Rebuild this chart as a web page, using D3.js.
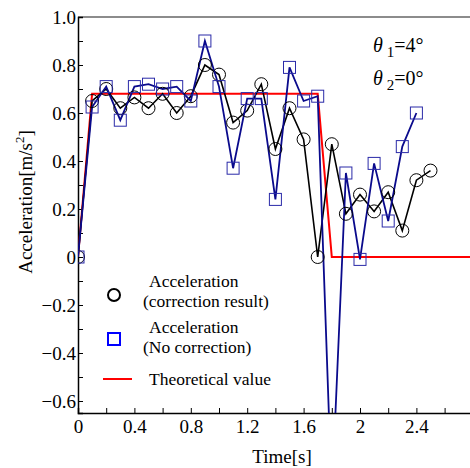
<!DOCTYPE html>
<html>
<head>
<meta charset="utf-8">
<script src="https://cdn.jsdelivr.net/npm/d3@7"></script>
<style>
  body { margin: 0; background: #fff; }
  svg { display: block; font-family: "Liberation Serif", "DejaVu Serif", serif; }
  text { font-family: "Liberation Serif", "DejaVu Serif", serif; }
</style>
</head>
<body>
<svg id="chart" width="470" height="468"></svg>
<script>
// Time samples (s)
const timeCorrected = [0, 0.1, 0.2, 0.3, 0.4, 0.5, 0.6, 0.7, 0.8, 0.9, 1.0, 1.1, 1.2, 1.3,
  1.4, 1.5, 1.6, 1.7, 1.8, 1.9, 2.0, 2.1, 2.2, 2.3, 2.4, 2.5];
const accCorrected = [0, 0.65, 0.70, 0.62, 0.665, 0.62, 0.68, 0.60, 0.67, 0.80, 0.76, 0.56, 0.61, 0.72,
  0.45, 0.62, 0.49, 0.0, 0.47, 0.18, 0.26, 0.19, 0.27, 0.11, 0.32, 0.36];

const timeRaw = [0, 0.1, 0.2, 0.3, 0.4, 0.5, 0.6, 0.7, 0.8, 0.9, 1.0, 1.1, 1.2, 1.3,
  1.4, 1.5, 1.6, 1.7, 1.8, 1.9, 2.0, 2.1, 2.2, 2.3, 2.4];
const accRaw = [0, 0.625, 0.71, 0.57, 0.71, 0.72, 0.70, 0.71, 0.65, 0.90, 0.71, 0.37, 0.66, 0.66,
  0.24, 0.79, 0.65, 0.67, -1.0, 0.35, -0.01, 0.39, 0.15, 0.46, 0.60];

const timeTheory = [0, 0.1, 1.7, 1.8, 2.8];
const accTheory = [0, 0.68, 0.68, 0, 0];

const xTicks = [0, 0.4, 0.8, 1.2, 1.6, 2, 2.4];
const yTicks = [-0.6, -0.4, -0.2, 0, 0.2, 0.4, 0.6, 0.8, 1.0];

const legendLabels = [
  ["Acceleration", "(correction result)"],
  ["Acceleration", "(No correction)"],
  ["Theoretical value"]
];

const svg = d3.select("#chart");
const margin = { left: 78, top: 17, right: 0, bottom: 55 };
const W = 470, H = 468;
const FS = 19;

const x = d3.scaleLinear().domain([0, 2.8]).range([margin.left, margin.left + 2.8 * 141]);
const y = d3.scaleLinear().domain([-0.65, 1.0]).range([H - margin.bottom, margin.top]);

svg.append("defs").append("clipPath").attr("id", "clip")
  .append("rect")
  .attr("x", margin.left).attr("y", margin.top)
  .attr("width", W - margin.left).attr("height", y(-0.65) - margin.top);

// top frame line
svg.append("line")
  .attr("x1", margin.left).attr("x2", W)
  .attr("y1", margin.top).attr("y2", margin.top)
  .attr("stroke", "#666").attr("stroke-width", 1.5);

// axes with inside ticks
const xAxis = d3.axisBottom(x)
  .tickValues(d3.range(0, 2.81, 0.2))
  .tickSize(-5)
  .tickFormat(d => xTicks.some(t => Math.abs(t - d) < 1e-6) ? d3.format("~g")(+d.toFixed(1)) : "");
const gx = svg.append("g").attr("transform", `translate(0,${y(-0.65)})`).call(xAxis);
gx.attr("font-family", null);
gx.select(".domain").attr("stroke", "#000").attr("stroke-width", 1.5);
gx.selectAll(".tick line").attr("stroke", "#000");
gx.selectAll(".tick text").attr("font-size", FS).attr("dy", "0.9em").attr("fill", "#000");

const yAxis = d3.axisLeft(y)
  .tickValues(d3.range(-6, 11, 1).map(v => v / 10))
  .tickSize(-5)
  .tickFormat(d => {
    if (!yTicks.some(t => Math.abs(t - d) < 1e-6)) return "";
    if (Math.abs(d) < 1e-6) return "0";
    if (Math.abs(d - 1) < 1e-6) return "1.0";
    return d3.format(".1f")(d).replace("-", "\u2212");
  });
const gy = svg.append("g").attr("transform", `translate(${margin.left},0)`).call(yAxis);
gy.attr("font-family", null);
gy.select(".domain").attr("stroke", "#000").attr("stroke-width", 1.5);
gy.selectAll(".tick line").attr("stroke", "#000");
gy.selectAll(".tick text").attr("font-size", FS).attr("x", -2).attr("fill", "#000");

// axis titles
svg.append("text")
  .attr("x", 282).attr("y", 463)
  .attr("text-anchor", "middle").attr("font-size", FS)
  .text("Time[s]");

const yl = svg.append("text")
  .attr("transform", "translate(32,202) rotate(-90)")
  .attr("text-anchor", "middle").attr("font-size", FS);
yl.append("tspan").text("Acceleration[m/s");
yl.append("tspan").attr("dy", -8).attr("font-size", 13).text("2");
yl.append("tspan").attr("dy", 8).text("]");

const plot = svg.append("g").attr("clip-path", "url(#clip)");

const line = d3.line().x(d => x(d[0])).y(d => y(d[1]));

const theory = d3.zip(timeTheory, accTheory);
const corrected = d3.zip(timeCorrected, accCorrected);
const raw = d3.zip(timeRaw, accRaw);

plot.append("path").datum(theory).attr("d", line)
  .attr("fill", "none").attr("stroke", "#ff0000").attr("stroke-width", 2);

plot.append("path").datum(corrected).attr("d", line)
  .attr("fill", "none").attr("stroke", "#000").attr("stroke-width", 1.6);

plot.append("path").datum(raw).attr("d", line)
  .attr("fill", "none").attr("stroke", "#0a0a8c").attr("stroke-width", 1.8);

plot.selectAll(".pc").data(corrected).enter().append("circle")
  .attr("cx", d => x(d[0])).attr("cy", d => y(d[1])).attr("r", 6.5)
  .attr("fill", "none").attr("stroke", "#000").attr("stroke-width", 1);

plot.selectAll(".pr").data(raw).enter().append("rect")
  .attr("x", d => x(d[0]) - 6).attr("y", d => y(d[1]) - 6)
  .attr("width", 12).attr("height", 12)
  .attr("fill", "none").attr("stroke", "#2a2aa8").attr("stroke-width", 1);

// annotation
const ann = [["1", "4"], ["2", "0"]];
ann.forEach((a, i) => {
  const t = svg.append("text").attr("x", 373).attr("y", 52 + i * 33).attr("font-size", 20);
  t.append("tspan").attr("font-style", "italic").text("\u03b8");
  t.append("tspan").attr("dx", 4).attr("dy", 5).attr("font-size", 15).text(a[0]);
  t.append("tspan").attr("dy", -5).text("=" + a[1] + "\u00b0");
});

// legend
const lg = svg.append("g");
lg.append("circle").attr("cx", 114).attr("cy", 295).attr("r", 6)
  .attr("fill", "none").attr("stroke", "#000").attr("stroke-width", 2);
lg.append("rect").attr("x", 108).attr("y", 333).attr("width", 12).attr("height", 12)
  .attr("fill", "none").attr("stroke", "#0000ff").attr("stroke-width", 2);
lg.append("line").attr("x1", 103).attr("x2", 132).attr("y1", 379).attr("y2", 379)
  .attr("stroke", "#ff0000").attr("stroke-width", 2);

const legendY = [287, 333, 385];
legendLabels.forEach((lines, i) => {
  const t = lg.append("text").attr("y", legendY[i]).attr("font-size", 17.5);
  lines.forEach((s, j) => {
    t.append("tspan")
      .attr("x", j === 0 ? 149 : 143)
      .attr("dy", j === 0 ? 0 : 19.5)
      .text(s);
  });
});
</script>
</body>
</html>
